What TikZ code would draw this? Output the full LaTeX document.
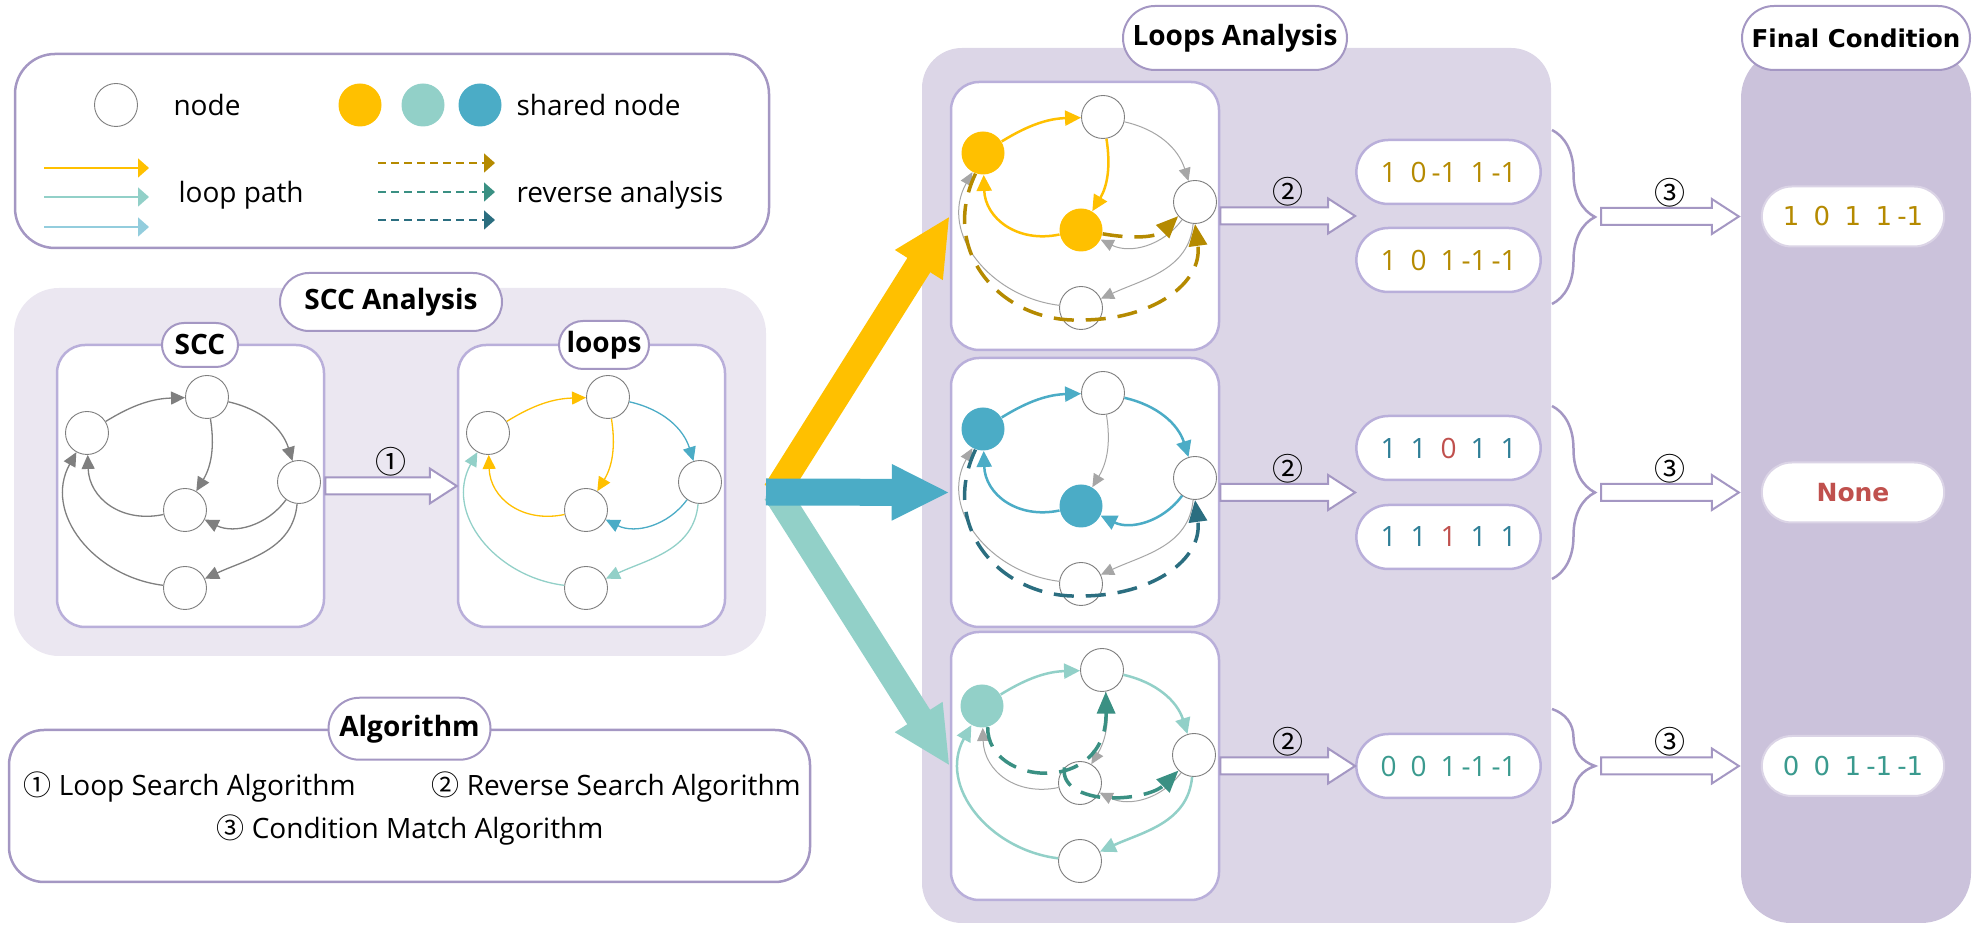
\documentclass[tikz,border=0pt]{standalone}
\usepackage{fontspec}
\setmainfont{Open Sans}
\newfontfamily\cjk{Noto Sans CJK SC}
\newfontfamily\widefont{DejaVu Sans}
\usetikzlibrary{positioning}
\usetikzlibrary{calc}
\usetikzlibrary{arrows.meta}
\usetikzlibrary{shapes.misc}
\usetikzlibrary{decorations.pathreplacing}

\definecolor{loopyellow}{HTML}{FFC000}
\definecolor{loopteal}{HTML}{92D0C8}
\definecolor{loopblue}{HTML}{4BACC6}
\definecolor{paleblue}{HTML}{93CDDD}
\definecolor{revgold}{HTML}{B58A00}
\definecolor{revteal}{HTML}{3A9083}
\definecolor{revblue}{HTML}{2B6E80}
\definecolor{sccgray}{HTML}{7F7F7F}
\definecolor{edgelight}{HTML}{A6A6A6}
\definecolor{framepurple}{HTML}{A497C3}
\definecolor{boxpurple}{HTML}{B9AFDA}
\definecolor{sccfill}{HTML}{EBE7F1}
\definecolor{loopfill}{HTML}{DCD6E7}
\definecolor{finalfill}{HTML}{CBC2DB}
\definecolor{valgold}{HTML}{B58A00}
\definecolor{valblue}{HTML}{2E7E96}
\definecolor{valred}{HTML}{C0504D}
\definecolor{valteal}{HTML}{3A9A8E}

\newcommand{\bigtext}{\fontsize{28}{33}\selectfont}
\newcommand{\vc}[1]{\makebox[30pt]{#1}}
\newcommand{\fc}[1]{\makebox[31pt]{#1}}

% five nodes of one graph, a at the scope origin
\newcommand{\graphnodes}[3]{%
  \node (#1a) [gnode,#2] at (0,0) {};
  \node (#1b) [gnode] at (120,36) {};
  \node (#1c) [gnode] at (212,-49) {};
  \node (#1d) [gnode,#3] at (98,-77) {};
  \node (#1e) [gnode] at (98,-155) {};}

% edges: ab bd da bc cd ce ea
\newcommand{\graphedges}[8]{%
  \draw [#2] (#1a) to[bend left=15] (#1b);
  \draw [#3] (#1b) to[bend left=20] (#1d);
  \draw [#4] (#1d) to[bend left=50,looseness=1.15] (#1a);
  \draw [#5] (#1b) to[bend left=30] (#1c);
  \draw [#6] (#1c) to[bend left=40] (#1d);
  \draw [#7] (#1c) to[out=265,in=25] (#1e);
  \draw [#8] (#1e) to[out=173,in=241,looseness=1.12] (#1a);}

\newcommand{\blockarrow}[3]{%
  \draw [hollow] let \p1=(#1), \p2=(#2) in
    (\x1,\y2+8.5pt) -- (\x2-27pt,\y2+8.5pt) -- (\x2-27pt,\y2+17.5pt) -- (\x2,\y2)
    -- (\x2-27pt,\y2-17.5pt) -- (\x2-27pt,\y2-8.5pt) -- (\x1,\y2-8.5pt) -- cycle
    ({0.5*\x1+0.5*\x2},\y2+24pt) node [numlabel] {#3};}

\begin{document}
\begin{tikzpicture}
[x=1pt,y=1pt,
 every node/.style={font=\bigtext},
 gnode/.style={shape=circle,draw=sccgray,line width=0.9pt,fill=white,minimum size=43pt,inner sep=0pt},
 shared/.style={fill=#1,draw=none},
 frame/.style={draw=framepurple,line width=2.5pt,rounded corners=#1,inner sep=0pt},
 panel/.style={fill=#1,rounded corners=45pt,inner sep=0pt},
 gbox/.style={draw=boxpurple,line width=2.5pt,fill=white,rounded corners=28pt,inner sep=0pt},
 title/.style={shape=rounded rectangle,draw=framepurple,line width=2pt,fill=white,font=\bfseries\bigtext,inner xsep=4pt},
 valbox/.style={shape=rounded rectangle,draw=boxpurple,line width=2.5pt,fill=white,minimum width=191pt,minimum height=64pt},
 finbox/.style={shape=rounded rectangle,draw=finalfill!70!white,line width=2pt,fill=white,minimum width=189pt,minimum height=60pt,font=\widefont\fontsize{26}{30}\selectfont},
 lsample/.style={draw=#1,line width=1.6pt,-{Triangle[length=11pt,width=19pt]}},
 revsample/.style={draw=#1,line width=1.6pt,dash pattern=on 8pt off 5pt,-{Triangle[length=11pt,width=19pt]}},
 scced/.style={draw=sccgray,line width=1.3pt,-{Triangle[length=14pt,width=13pt]}},
 lped/.style={draw=#1,line width=1.3pt,-{Triangle[length=14pt,width=13pt]}},
 hied/.style={draw=#1,line width=2.5pt,-{Triangle[length=16pt,width=15pt]}},
 grayed/.style={draw=edgelight,line width=1pt,-{Triangle[length=13pt,width=12pt]}},
 rev/.style={draw=#1,line width=3.5pt,dash pattern=on 20pt off 12pt,-{Triangle[length=22pt,width=18pt]}},
 hollow/.style={draw=framepurple,line width=2pt,fill=white,line join=miter},
 numlabel/.style={font=\cjk\fontsize{31}{34}\selectfont,inner sep=0pt},
 fatarrow/.style={draw=#1,line width=27pt,-{Triangle[length=58pt,width=52pt]}},
 bracepath/.style={draw=framepurple,line width=2.5pt,decorate,decoration={brace,amplitude=43pt}}]

\useasboundingbox (0,0) rectangle (1983,934);

% legend
\node (legend) [frame=40pt,minimum width=754pt,minimum height=194pt] at (392,783) {};
\node (lgnode) [gnode] at (116,829) {};
\node (lgnodetext) [anchor=west] at (170,829) {node};
\node (lgyellow) [gnode,shared=loopyellow] at (360,829) {};
\node (lgteal) [gnode,shared=loopteal] at (423,829) {};
\node (lgblue) [gnode,shared=loopblue] at (480,829) {};
\node (lgsharedtext) [anchor=west] at (513,829) {shared node};
\foreach \y/\c [count=\i] in {766/loopyellow,737/loopteal,707/paleblue} {
  \coordinate (lp\i) at (44,\y);
  \draw [lsample=\c] (lp\i) -- ++(105,0);
}
\node (lgpathtext) [anchor=west] at (175,739) {loop path};
\foreach \y/\c [count=\i] in {771/revgold,742/revteal,714/revblue} {
  \coordinate (lr\i) at (378,\y);
  \draw [revsample=\c] (lr\i) -- ++(117,0);
}
\node (lgrevtext) [anchor=west] at (513,739) {reverse analysis};

% SCC analysis
\node (sccpanel) [panel=sccfill,minimum width=752pt,minimum height=368pt] at (390,462) {};
\node (sccbox) [gbox,minimum width=267pt,minimum height=282pt] at (190.5,448) {};
\node (loopbox) [gbox,minimum width=267pt,minimum height=282pt] at (591.5,448) {};
\node (scctitle) [title,minimum width=230pt,minimum height=58pt] at (391,632) {SCC Analysis};
\node (scclabel) [title,minimum width=84pt,minimum height=44pt] at (200,589) {SCC};
\node (looplabel) [title,minimum width=98pt,minimum height=48pt] at (604,589) {loops};

\begin{scope}[shift={(87,501)}]
\graphnodes{s}{}{}
\graphedges{s}{scced}{scced}{scced}{scced}{scced}{scced}{scced}
\end{scope}
\begin{scope}[shift={(488,501)}]
\graphnodes{l}{}{}
\graphedges{l}{lped=loopyellow}{lped=loopyellow}{lped=loopyellow}{lped=loopblue}{lped=loopblue}{lped=loopteal}{lped=loopteal}
\end{scope}
\blockarrow{sccbox.east}{loopbox.west}{①}

% algorithm
\node (algo) [frame=35pt,minimum width=801pt,minimum height=152pt] at (409.5,128) {};
\node (algotitle) [title,minimum width=170pt,minimum height=62pt] at (algo.north) {Algorithm};
\node (alg1) [anchor=west] at (20,147) {{\cjk ①}~Loop Search Algorithm};
\node (alg2) [anchor=west] at (428,147) {{\cjk ②}~Reverse Search Algorithm};
\node (alg3) [anchor=west] at (213,104) {{\cjk ③}~Condition Match Algorithm};

% loops analysis
\node (looppanel) [panel=loopfill,rounded corners=40pt,minimum width=629pt,minimum height=875pt] at (1236.5,448.5) {};
\node (finalpanel) [panel=finalfill,rounded corners=50pt,minimum width=230pt,minimum height=875pt] at (1856,448.5) {};
\node (looptitle) [title,minimum width=232pt,minimum height=64pt] at (1235,896) {Loops Analysis};
\node (finaltitle) [title,minimum width=230pt,minimum height=64pt,inner xsep=1pt,font=\widefont\bfseries\fontsize{24.5}{28}\selectfont] at (1856,896) {Final Condition};

\node (box1) [gbox,minimum width=268pt,minimum height=268pt] at (1085,718) {};
\node (box2) [gbox,minimum width=268pt,minimum height=269pt] at (1085,441.5) {};
\node (box3) [gbox,minimum width=268pt,minimum height=268pt] at (1085,168) {};

\begin{scope}[shift={(983,781)}]
\graphnodes{p}{shared=loopyellow}{shared=loopyellow}
\graphedges{p}{hied=loopyellow}{hied=loopyellow}{hied=loopyellow}{grayed}{grayed}{grayed}{grayed}
\draw [rev=revgold] (pa.250) .. controls (-45,-100) and (20,-170) .. (98,-167)
  .. controls (170,-167) and (220,-130) .. (pc.south);
\draw [rev=revgold] (pd.350) to[out=-10,in=225] (pc.220);
\end{scope}

\begin{scope}[shift={(983,505)}]
\graphnodes{q}{shared=loopblue}{shared=loopblue}
\graphedges{q}{hied=loopblue}{grayed}{hied=loopblue}{hied=loopblue}{hied=loopblue}{grayed}{grayed}
\draw [rev=revblue] (qa.250) .. controls (-45,-100) and (20,-170) .. (98,-167)
  .. controls (170,-167) and (220,-130) .. (qc.south);
\end{scope}

\begin{scope}[shift={(982,228)}]
\graphnodes{r}{shared=loopteal}{}
\graphedges{r}{hied=loopteal}{grayed}{grayed}{hied=loopteal}{grayed}{hied=loopteal}{hied=loopteal}
\draw [rev=revteal] (ra.285) .. controls (5,-80) and (125,-90) .. (rb.280);
\draw [rev=revteal] (rd.135) to[out=260,in=180] (130,-92) to[out=0,in=225] (rc.225);
\end{scope}

% reverse search results
\node (va) [valbox,text=valgold] at (1448.5,762) {\vc{1}\vc{0}\vc{\llap{-}1}\vc{1}\vc{\llap{-}1}};
\node (vb) [valbox,text=valgold] at (1448.5,674) {\vc{1}\vc{0}\vc{1}\vc{\llap{-}1}\vc{\llap{-}1}};
\node (vc) [valbox,text=valblue] at (1448.5,486) {\vc{1}\vc{1}\vc{\textcolor{valred}{0}}\vc{1}\vc{1}};
\node (vd) [valbox,text=valblue] at (1448.5,397) {\vc{1}\vc{1}\vc{\textcolor{valred}{1}}\vc{1}\vc{1}};
\node (ve) [valbox,text=valteal] at (1448.5,168) {\vc{0}\vc{0}\vc{1}\vc{\llap{-}1}\vc{\llap{-}1}};

\blockarrow{box1.east}{va.west |- box1.east}{②}
\blockarrow{box2.east}{vc.west |- box2.east}{②}
\blockarrow{box3.east}{ve.west}{②}

\draw [bracepath] (1552,804) -- (1552,630);
\draw [bracepath] (1552,528) -- (1552,355);
\draw [bracepath] (1552,225) -- (1552,111);
\coordinate (t1) at (1601,717.5);
\coordinate (t2) at (1601,441.5);
\coordinate (t3) at (1601,168);

% final condition
\node (f1) [finbox,text=valgold] at (1853,717.5) {\fc{1}\fc{0}\fc{1}\fc{1}\fc{\llap{-}1}};
\node (f2) [finbox,text=valred,font=\widefont\bfseries\fontsize{25}{30}\selectfont] at (1853,441.5) {None};
\node (f3) [finbox,text=valteal] at (1853,168) {\fc{0}\fc{0}\fc{1}\fc{\llap{-}1}\fc{\llap{-}1}};

\blockarrow{t1}{[xshift=-22pt]f1.west}{③}
\blockarrow{t2}{[xshift=-22pt]f2.west}{③}
\blockarrow{t3}{[xshift=-22pt]f3.west}{③}

% SCC to loops
\coordinate (fork) at (766,442);
\draw [fatarrow=loopyellow] ([xshift=10pt]fork) -- (box1.west);
\draw [fatarrow=loopteal] ([xshift=10pt]fork) -- (box3.west);
\draw [fatarrow=loopblue] (fork) -- (box2.west);

\end{tikzpicture}
\end{document}
